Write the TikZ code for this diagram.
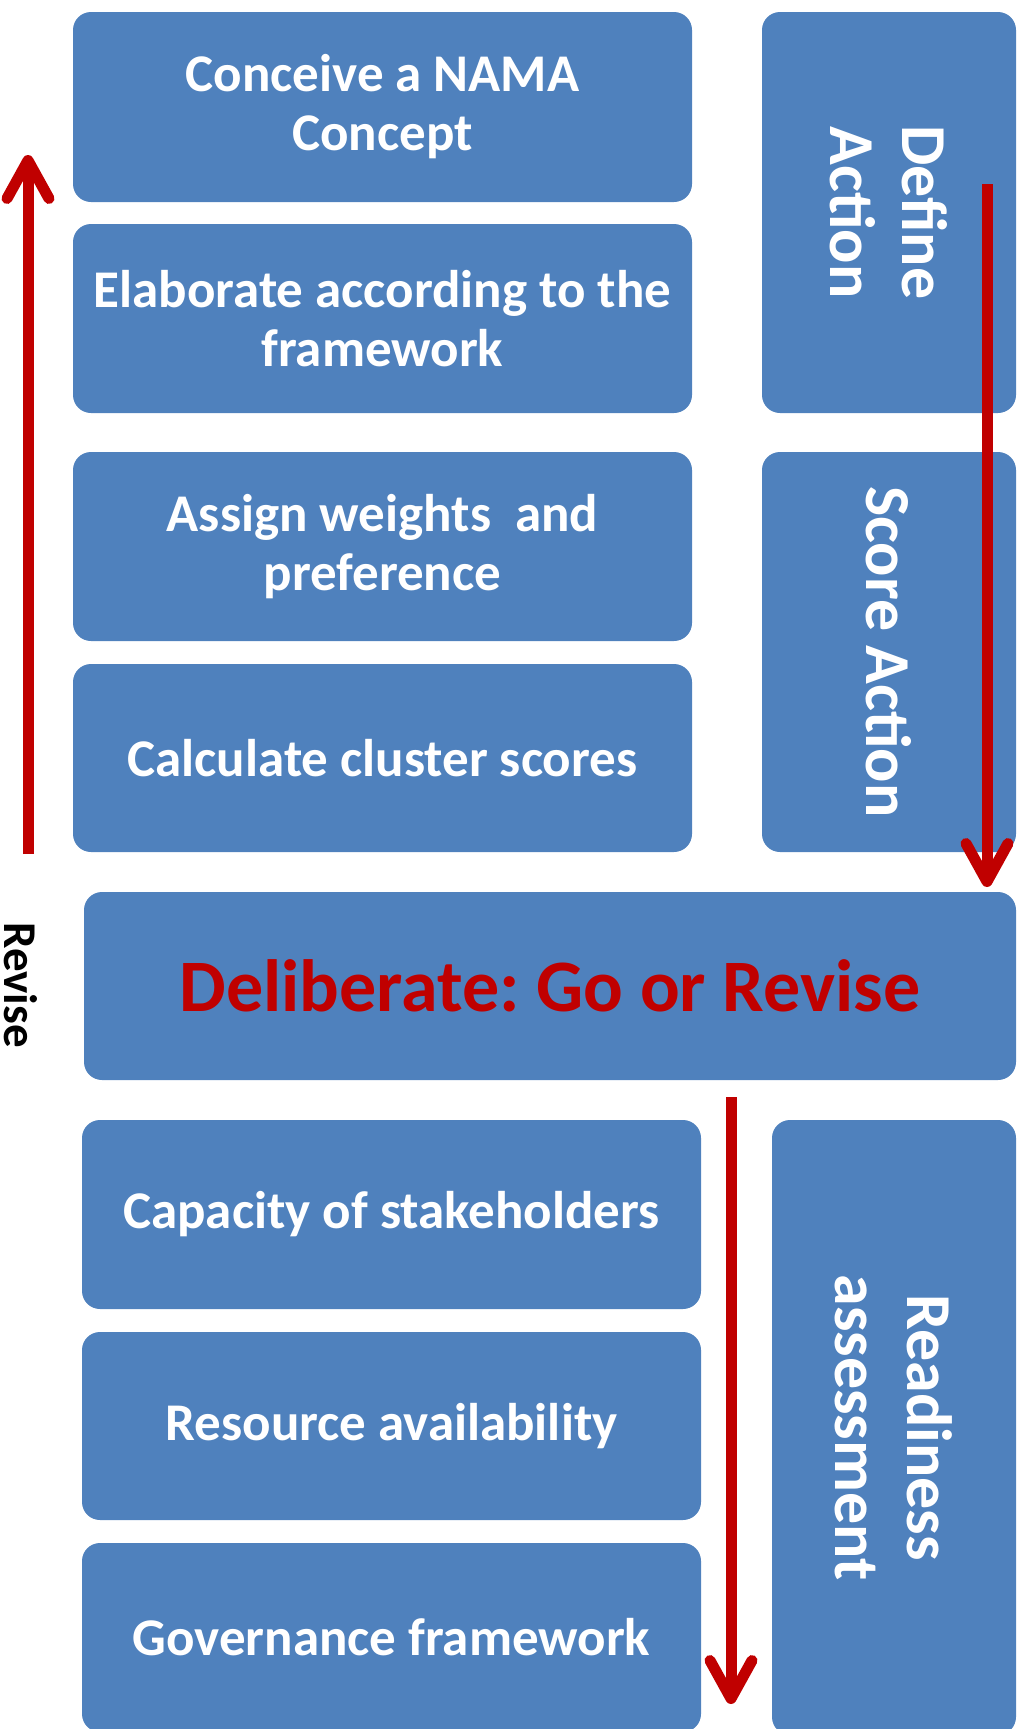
\documentclass[tikz,border=0pt]{standalone}
\usepackage{fontspec}
\setmainfont{Carlito}
\usetikzlibrary{arrows.meta}
\frenchspacing
\definecolor{boxblue}{HTML}{4F81BD}
\definecolor{darkred}{HTML}{C00000}
\tikzset{
  box/.style={fill=boxblue, draw=none, rounded corners=18pt, inner sep=0pt},
  boxtext/.style={text=white, font=\bfseries\fontsize{53}{59}\selectfont, align=center, inner sep=0pt},
  vtext/.style={boxtext, font=\bfseries\fontsize{64}{72}\selectfont, rotate=-90},
  redarrow/.style={draw=darkred, line width=11pt, -{Straight Barb[length=38pt,width=42pt,round]}},
}
\begin{document}
\begin{tikzpicture}[x=1pt,y=-1pt]
\useasboundingbox (0,0) rectangle (1023,1729);
% left column top
\node[box, minimum width=619pt, minimum height=190pt] (conceive) at (382.5,107) {};
\node[boxtext] (conceivet) at (conceive.center) {Conceive a NAMA\\Concept};
\node[box, minimum width=619pt, minimum height=189pt] (elaborate) at (382.5,318.5) {};
\node[boxtext] (elaboratet) at (elaborate.center) {Elaborate according to the\\framework};
\node[box, minimum width=619pt, minimum height=189pt] (assign) at (382.5,546.5) {};
\node[boxtext] (assignt) at (assign.center) {Assign weights\ \ and\\preference};
\node[box, minimum width=619pt, minimum height=188pt] (calc) at (382.5,758) {};
\node[boxtext] (calct) at (calc.center) {Calculate cluster scores};
% right column top
\node[box, minimum width=254pt, minimum height=401pt] (define) at (889,212.5) {};
\node[vtext] (definet) at (define.center) {Define\\Action};
\node[box, minimum width=254pt, minimum height=400pt] (score) at (889,652) {};
\node[vtext] (scoret) at (score.center) {Score Action};
% deliberate
\node[box, minimum width=932pt, minimum height=188pt] (delib) at (550,986) {};
\node[boxtext, text=darkred, font=\bfseries\fontsize{74}{84}\selectfont] (delibt) at (delib.center) {Deliberate: Go or Revise};
% bottom left
\node[box, minimum width=619pt, minimum height=189pt] (capacity) at (391.5,1214.5) {};
\node[boxtext] (capacityt) at (capacity.center) {Capacity of stakeholders};
\node[box, minimum width=619pt, minimum height=188pt] (resource) at (391.5,1426) {};
\node[boxtext] (resourcet) at (resource.center) {Resource availability};
\node[box, minimum width=619pt, minimum height=189pt] (govern) at (391.5,1637.5) {};
\node[boxtext] (governt) at (govern.center) {Governance framework};
% readiness
\node[box, minimum width=244pt, minimum height=615pt] (ready) at (894,1427.5) {};
\node[vtext] (readyt) at (ready.center) {Readiness\\assessment};
% revise label
\node[rotate=-90, font=\bfseries\fontsize{47}{52}\selectfont, inner sep=0pt] (revise) at (21,985) {Revise};
% arrows
\coordinate (lstart) at (28,854);
\coordinate (lend) at (28,155);
\coordinate (rstart) at (987,184);
\coordinate (rend) at (987,887);
\coordinate (bstart) at (731,1097);
\coordinate (bend) at (731,1704);
\draw[redarrow] (lstart) -- (lend);
\draw[redarrow] (rstart) -- (rend);
\draw[redarrow] (bstart) -- (bend);
\end{tikzpicture}
\end{document}
